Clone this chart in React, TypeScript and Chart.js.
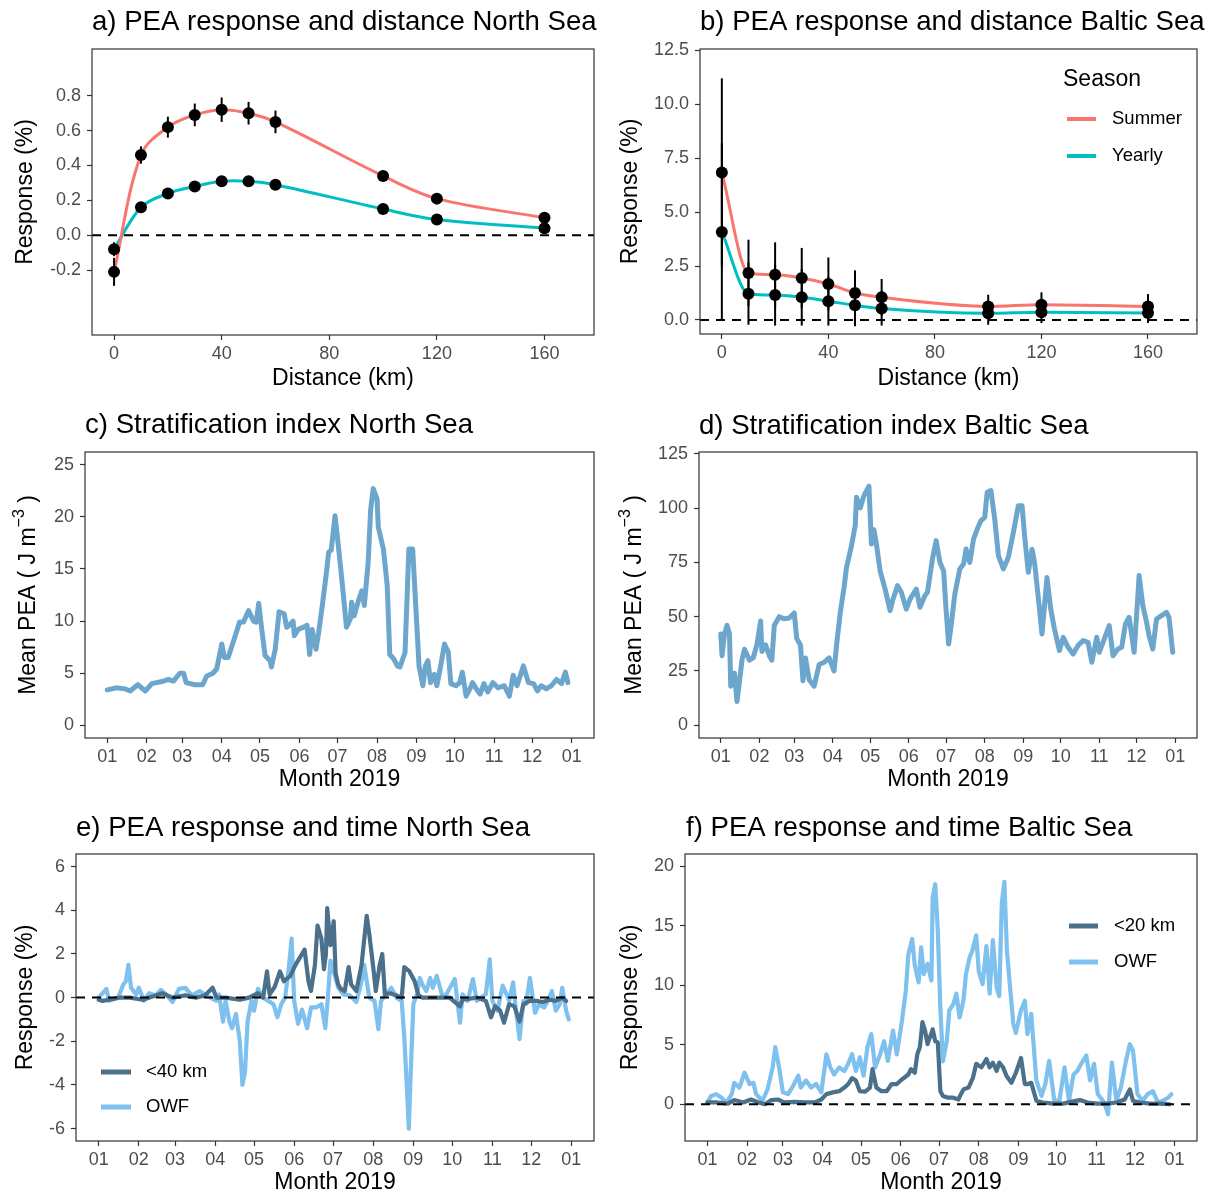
import React, { useEffect, useRef } from "react";
import { Chart, registerables } from "chart.js";

Chart.register(...registerables);

const FONT = "'Liberation Sans', Arial, Helvetica, sans-serif";
const TICK_COLOR = "#4D4D4D";
const FRAME_COLOR = "#333333";
const SUMMER_COLOR = "#F8766D";
const YEARLY_COLOR = "#00BFC4";
const PEA_COLOR = "#6CA6CD";
const NEAR_COLOR = "#4A708B";
const OWF_COLOR = "#7EC0EE";

// ---------------- data: panels a & b (response vs distance) ----------------
const distanceKm = [0, 10, 20, 30, 40, 50, 60, 100, 120, 160];
const distanceTicks = [0, 40, 80, 120, 160];

const northSummer = [-0.21, 0.46, 0.62, 0.69, 0.72, 0.7, 0.65, 0.34, 0.21, 0.1];
const northSummerLo = [-0.29, 0.41, 0.56, 0.625, 0.65, 0.635, 0.585, 0.31, 0.19, 0.085];
const northSummerHi = [-0.13, 0.51, 0.68, 0.755, 0.79, 0.765, 0.715, 0.37, 0.23, 0.115];
const northYearly = [-0.08, 0.16, 0.24, 0.28, 0.31, 0.31, 0.29, 0.15, 0.09, 0.04];
const northYearlyLo = [-0.12, 0.14, 0.21, 0.25, 0.28, 0.28, 0.26, 0.135, 0.08, 0.03];
const northYearlyHi = [-0.04, 0.18, 0.27, 0.31, 0.34, 0.34, 0.32, 0.165, 0.1, 0.05];

const balticSummer = [6.84, 2.18, 2.1, 1.95, 1.67, 1.25, 1.05, 0.63, 0.71, 0.63];
const balticSummerLo = [2.48, 0.64, 0.6, 0.56, 0.44, 0.2, 0.2, 0.09, 0.14, 0.06];
const balticSummerHi = [11.2, 3.72, 3.6, 3.34, 2.9, 2.3, 1.9, 1.17, 1.28, 1.2];
const balticYearly = [4.08, 1.22, 1.16, 1.05, 0.87, 0.68, 0.53, 0.31, 0.36, 0.32];
const balticYearlyLo = [-0.05, -0.22, -0.26, -0.26, -0.26, -0.29, -0.26, -0.22, -0.14, -0.14];
const balticYearlyHi = [8.2, 2.66, 2.58, 2.36, 2.0, 1.65, 1.32, 0.84, 0.86, 0.78];

const northResponseTicks = [-0.2, 0, 0.2, 0.4, 0.6, 0.8];
const balticResponseTicks = [0, 2.5, 5, 7.5, 10, 12.5];

// ---------------- data: time axis ----------------
const monthTickDays = [0, 31, 59, 90, 120, 151, 181, 212, 243, 273, 304, 334, 365];
const monthTickLabels = ["01", "02", "03", "04", "05", "06", "07", "08", "09", "10", "11", "12", "01"];

// panel c: mean PEA North Sea [day of year, J m-3]
const northPEA: [number, number][] = [
  [0, 3.4], [7, 3.6], [14, 3.5], [18, 3.3], [22, 3.7], [24, 3.9], [30, 3.3], [35, 4.0], [43, 4.2], [48, 4.4],
  [52, 4.25], [57, 5.0], [60, 5.0], [62, 4.1], [69, 3.9], [75, 3.9], [78, 4.7], [83, 5.0], [86, 5.4], [90, 7.8],
  [92, 6.5], [95, 6.5], [99, 8.0], [104, 9.9], [107, 9.9], [111, 11.0], [115, 10.0], [117, 9.9], [119, 11.7], [121, 9.6],
  [124, 6.7], [128, 6.2], [129, 5.6], [132, 7.3], [135, 10.9], [139, 10.7], [141, 9.4], [143, 9.6], [146, 10.0], [147, 8.6],
  [150, 9.2], [154, 9.4], [157, 9.6], [159, 6.8], [161, 9.2], [164, 7.3], [166, 8.8], [169, 11.5], [172, 14.4], [174, 16.6],
  [176, 16.8], [179, 20.1], [181, 17.9], [184, 14.4], [188, 9.4], [191, 10.2], [192, 11.8], [194, 10.5], [197, 11.8], [200, 12.9],
  [202, 11.5], [205, 15.6], [207, 20.7], [209, 22.7], [212, 21.7], [213, 19.0], [217, 16.9], [220, 13.4], [222, 6.8], [225, 6.4],
  [228, 5.7], [230, 5.6], [234, 7.0], [237, 16.9], [240, 16.9], [243, 10.2], [245, 5.7], [248, 3.8], [250, 5.7], [252, 6.2],
  [254, 4.1], [257, 4.9], [259, 3.8], [262, 5.7], [265, 7.8], [268, 7.0], [270, 4.0], [274, 3.8], [277, 4.1], [279, 5.1],
  [282, 2.8], [285, 3.5], [287, 4.1], [290, 3.5], [293, 3.0], [296, 4.0], [299, 3.2], [303, 4.1], [307, 3.6], [312, 3.8],
  [316, 2.8], [319, 4.8], [322, 3.8], [327, 5.7], [331, 4.1], [335, 4.0], [338, 3.3], [341, 3.8], [345, 3.5], [349, 3.8],
  [353, 4.4], [357, 4.0], [360, 5.1], [362, 4.1],
];

// panel d: mean PEA Baltic Sea
const balticPEA: [number, number][] = [
  [0, 42], [1, 32], [3, 42], [5, 46], [7, 42], [8, 18], [11, 24], [13, 11], [15, 20], [17, 30],
  [19, 35], [23, 30], [26, 31], [29, 37], [32, 48], [33, 34], [36, 37], [39, 32], [41, 30], [43, 46],
  [47, 50], [51, 49], [55, 49.4], [59, 51.7], [61, 40], [64, 37], [66, 20.5], [68, 31], [71, 21], [75, 18],
  [79, 28], [83, 29], [87, 31], [91, 25], [93, 37], [96, 52], [99, 63.5], [101, 72.7], [105, 82.7], [108, 92],
  [109, 105], [112, 100], [115, 105.7], [119, 110], [121, 83.4], [123, 90], [125, 83.4], [128, 71], [132, 62.7], [136, 52.8],
  [138, 57.4], [142, 64.3], [145, 61.2], [149, 53.5], [152, 58.1], [157, 62.7], [160, 54.3], [164, 59.7], [166, 61.2], [170, 76.5],
  [173, 85], [176, 75], [179, 71], [181, 52.8], [183, 37.4], [185, 45.9], [188, 60.4], [192, 71.9], [195, 74.2], [197, 81.1],
  [200, 75], [203, 85.7], [206, 90.3], [209, 94.2], [212, 95.7], [214, 107.2], [217, 108], [220, 95], [223, 78], [227, 72],
  [231, 77.3], [235, 88.8], [239, 101], [242, 101], [244, 87.3], [247, 70.4], [250, 81], [252, 75], [254, 64.3], [256, 53.5],
  [258, 42], [260, 55], [262, 68], [265, 53.5], [268, 44.3], [272, 34.4], [275, 40.5], [279, 35.9], [283, 32.8], [287, 36.7],
  [291, 39], [295, 38.2], [298, 29], [302, 40.5], [304, 33.6], [308, 39.7], [312, 45.9], [315, 32], [319, 35.1], [322, 35.9],
  [325, 46.6], [328, 49.7], [332, 33.6], [335, 59.7], [336, 68.9], [339, 55], [342, 47.4], [344, 41.3], [347, 35.1], [350, 48.9],
  [354, 50.5], [358, 52], [360, 49.7], [363, 33.6],
];

// panel e: PEA response North Sea (<40 km and OWF)
const northNear: [number, number][] = [
  [0, -0.1], [3, -0.15], [8, -0.1], [16, 0], [24, 0], [34, -0.1], [44, 0.1], [49, 0.2], [57, 0], [67, 0.1],
  [75, 0], [82, 0.1], [88, 0.45], [91, 0], [98, 0], [109, -0.1], [116, 0], [123, 0.2], [127, 0], [130, 1.2],
  [132, 0.15], [136, 0.5], [140, 1.2], [143, 0.75], [148, 1.0], [152, 1.5], [155, 1.8], [157, 2.0], [159, 2.2], [162, 0.75],
  [164, 0.3], [167, 1.5], [169, 3.3], [172, 2.7], [174, 1.3], [175.5, 2.0], [176.5, 4.1], [179, 2.4], [181.5, 3.5], [183, 1.1],
  [185, 0.6], [187, 0.4], [190, 0.3], [193, 1.4], [195, 0.6], [199, 0.3], [203, 1.5], [207, 3.75], [209, 2.9], [212, 1.4],
  [214, 0.3], [217, 1.5], [219, 2.0], [221, 0.15], [225, 0.2], [230, 0.1], [234, 0], [236, 1.4], [240, 1.2], [244, 0.75],
  [247, 0.1], [250, 0], [261, 0], [271, 0], [279, -0.4], [281, -0.1], [292, 0], [299, -0.15], [303, -0.9], [306, -0.4],
  [310, -0.6], [313, -1.15], [317, -0.3], [321, -0.4], [325, -1.1], [328, -0.3], [333, -0.15], [338, -0.15], [343, -0.2], [348, -0.1],
  [353, -0.15], [358, 0], [361, -0.15],
];
const northOWF: [number, number][] = [
  [0, 0], [6, 0.4], [8, -0.15], [15, 0], [19, 0.6], [21, 0.75], [23, 1.5], [25, 0.45], [29, 0.15], [31, 0.45],
  [35, -0.15], [39, 0.2], [44, 0.1], [48, 0.35], [52, 0.15], [57, -0.2], [62, 0.4], [67, 0.45], [72, 0.1], [78, 0.3],
  [83, 0.1], [91, -0.15], [93, 0.15], [96, -1.1], [98, -0.15], [101, -1.1], [103, -1.4], [106, -0.75], [109, -2.0], [111, -4.0],
  [113, -3.4], [115, -1.1], [118, -0.15], [120, -0.6], [123, 0.4], [127, 0], [131, -0.15], [135, -0.3], [138, -0.9], [141, -0.3],
  [144, 0], [147, 1.45], [149, 2.7], [151, -0.15], [154, -1.2], [157, -0.55], [161, -1.4], [164, -0.45], [168, -0.45], [172, -0.3],
  [175, -1.4], [177, 0], [179, 1.7], [182, 1.1], [185, 0.45], [189, 0.15], [194, 0.1], [199, -0.2], [203, 0.75], [205, 1.5],
  [209, 0], [213, -0.15], [216, -1.45], [218, -0.15], [222, 0.15], [226, 0.45], [230, 0], [234, -0.15], [236, -1.8], [238, -4.1],
  [239.5, -6.0], [241, -3.4], [243, -0.3], [246, 0.2], [248, 0.9], [250, 0.6], [253, 0.3], [256, 0.9], [258, 0.45], [261, 1.0],
  [265, 0.15], [268, 0.1], [275, 0.85], [279, -1.15], [281, 0.15], [285, -0.15], [289, 0.85], [292, -0.15], [295, 0], [299, 0.15],
  [302, 1.75], [304, -0.15], [308, -0.6], [312, 0.55], [315, 0.15], [317, -0.15], [320, 0.7], [322, -0.45], [325, -1.9], [328, -0.15],
  [330, -0.3], [333, 0.9], [337, -0.7], [340, -0.3], [344, -0.45], [347, -0.15], [350, 0.3], [353, -0.6], [356, -0.3], [358, 0.45],
  [361, -0.6], [363, -1.0],
];

// panel f: PEA response Baltic Sea (<20 km and OWF)
const balticNear: [number, number][] = [
  [0, 0.15], [8, 0.15], [16, 0.05], [21, 0.35], [28, 0.15], [34, 0.4], [40, 0.15], [45, 0], [50, 0.35], [55, 0.4],
  [60, 0.15], [68, 0.2], [76, 0.15], [84, 0.15], [89, 0.4], [93, 0.85], [98, 1.0], [103, 1.1], [107, 1.4], [110, 1.7],
  [113, 2.2], [116, 2.0], [119, 1.1], [123, 1.05], [127, 1.4], [129, 2.95], [132, 1.4], [136, 1.1], [140, 1.1], [144, 1.7],
  [148, 1.7], [151, 2.0], [154, 2.25], [157, 2.5], [159, 2.95], [162, 2.65], [164, 4.2], [166, 4.8], [168, 6.9], [170, 6.2],
  [172, 5.05], [176, 6.3], [178, 5.3], [180, 5.2], [182, 1.1], [184, 0.7], [188, 0.55], [192, 0.55], [196, 0.4], [200, 1.25],
  [204, 1.4], [207.5, 2.25], [210, 3.4], [214, 3.1], [218, 3.8], [220.5, 3.1], [223, 3.5], [226, 2.8], [228, 3.5], [231, 3.1],
  [233.6, 2.4], [237.5, 1.8], [241, 2.65], [245, 3.9], [248, 1.7], [250.5, 1.7], [253, 1.8], [257, 0.3], [262, 0.15], [270, 0.05],
  [278, 0.05], [284, 0.2], [291, 0.35], [297, 0.15], [304, 0.05], [312, 0.05], [319.5, 0.15], [326, 0.4], [330, 1.25], [332.5, 0.3],
  [338, 0.15], [345.5, 0.05], [353, 0.05], [361, 0],
];
const balticOWF: [number, number][] = [
  [0, 0.15], [3, 0.7], [7, 0.85], [11, 0.55], [15, 0.15], [19, 0.85], [21, 1.8], [25, 1.4], [29, 2.65], [33, 1.7],
  [36, 1.8], [38, 0.85], [43, 0.3], [47, 1.25], [51, 3.1], [53, 4.8], [56, 3.1], [59, 1.0], [63, 0.85], [67, 1.55],
  [71, 2.4], [73, 1.4], [77, 2.0], [81, 1.4], [85, 1.7], [89, 1.0], [93, 4.2], [96, 3.1], [99, 2.5], [103, 3.1],
  [107, 2.8], [110, 3.4], [113, 4.2], [116, 2.8], [119, 3.95], [122, 2.4], [125, 4.8], [128, 5.9], [131, 3.1], [135, 4.2],
  [138, 5.3], [141, 3.65], [145, 6.2], [148, 4.2], [152, 7.0], [155, 9.55], [157, 12.6], [160, 13.9], [162, 11.7], [165, 10.25],
  [167, 13.2], [169, 10.95], [172, 11.8], [175, 10.4], [176, 17.4], [178, 18.5], [180, 14.6], [182, 8.1], [184, 3.6], [187, 5.3],
  [189, 7.9], [192, 8.4], [194.5, 9.3], [197, 7.3], [200, 8.7], [202, 10.95], [205, 12.4], [207, 12.9], [210, 14.2], [212, 11.2],
  [215, 10.1], [218, 13.3], [220.5, 9.3], [223, 13.8], [226, 9.8], [228, 9.1], [230, 16.9], [232, 18.7], [234, 12.9], [236, 10.4],
  [239, 6.75], [241, 6.0], [245, 7.9], [248, 8.7], [250, 5.9], [253, 7.6], [257, 2.0], [261, 0.7], [264, 1.7], [267, 3.65],
  [271, 0.3], [275, 0.3], [279, 3.1], [282.5, 0.3], [286, 2.5], [289, 2.8], [292, 3.4], [296, 4.1], [299, 2.0], [302, 3.4],
  [305, 0.85], [310, 0.15], [313, -0.85], [316, 3.5], [319.5, 0.3], [323, 1.4], [327, 3.65], [330, 5.05], [332.5, 4.5], [336, 0.85],
  [340, 0.3], [344, 0.85], [348, 1.1], [352, 0.15], [356, 0.3], [360, 0.55], [362.5, 0.85],
];

const northPeaTicks = [0, 5, 10, 15, 20, 25];
const balticPeaTicks = [0, 25, 50, 75, 100, 125];
const northTimeTicks = [-6, -4, -2, 0, 2, 4, 6];
const balticTimeTicks = [0, 5, 10, 15, 20];

// ---------------- helpers ----------------
type Area = { l: number; t: number; r: number; b: number };
type TextPart = { text: string; size: number; dy: number };
interface LegendSpec {
  title?: string;
  titleX?: number;
  titleY?: number;
  items: { label: string; color: string; y: number }[];
  keyX0: number;
  keyX1: number;
  keyWidth: number;
  labelX: number;
}
interface ErrorBarSpec { xs: number[]; lo: number[]; hi: number[] }
interface Decor {
  title: string;
  titleX: number;
  titleY: number;
  xTitle: string;
  xTitleY: number;
  yTitleParts: TextPart[];
  yTitleX: number;
  legend?: LegendSpec;
  errorBars?: ErrorBarSpec[];
  errorBarsBeforeIndex?: number;
}

function makeDecorPlugin(d: Decor) {
  return {
    id: "decor",
    beforeDatasetDraw(chart: any, args: any) {
      if (!d.errorBars || args.index !== d.errorBarsBeforeIndex) return;
      const { ctx } = chart;
      const xs = chart.scales.x;
      const ys = chart.scales.y;
      ctx.save();
      ctx.strokeStyle = "#000000";
      ctx.lineWidth = 2;
      ctx.lineCap = "butt";
      for (const eb of d.errorBars) {
        for (let i = 0; i < eb.xs.length; i++) {
          const px = xs.getPixelForValue(eb.xs[i]);
          ctx.beginPath();
          ctx.moveTo(px, ys.getPixelForValue(eb.lo[i]));
          ctx.lineTo(px, ys.getPixelForValue(eb.hi[i]));
          ctx.stroke();
        }
      }
      ctx.restore();
    },
    afterDraw(chart: any) {
      const { ctx, chartArea: a } = chart;
      ctx.save();
      // panel border
      ctx.strokeStyle = FRAME_COLOR;
      ctx.lineWidth = 1.2;
      ctx.strokeRect(a.left, a.top, a.right - a.left, a.bottom - a.top);
      // title
      ctx.fillStyle = "#000000";
      ctx.textBaseline = "middle";
      ctx.textAlign = "left";
      ctx.font = `27.6px ${FONT}`;
      ctx.fillText(d.title, d.titleX, d.titleY);
      // x title
      ctx.textAlign = "center";
      ctx.font = `23px ${FONT}`;
      ctx.fillText(d.xTitle, (a.left + a.right) / 2, d.xTitleY);
      // y title (rotated, may include superscript)
      ctx.save();
      ctx.translate(d.yTitleX, (a.top + a.bottom) / 2);
      ctx.rotate(-Math.PI / 2);
      ctx.textAlign = "left";
      let total = 0;
      const widths = d.yTitleParts.map((p) => {
        ctx.font = `${p.size}px ${FONT}`;
        const w = ctx.measureText(p.text).width;
        total += w;
        return w;
      });
      let cx = -total / 2;
      d.yTitleParts.forEach((p, i) => {
        ctx.font = `${p.size}px ${FONT}`;
        ctx.fillText(p.text, cx, p.dy);
        cx += widths[i];
      });
      ctx.restore();
      // legend
      if (d.legend) {
        const L = d.legend;
        if (L.title) {
          ctx.textAlign = "left";
          ctx.font = `23px ${FONT}`;
          ctx.fillStyle = "#000000";
          ctx.fillText(L.title, L.titleX, L.titleY);
        }
        for (const it of L.items) {
          ctx.strokeStyle = it.color;
          ctx.lineWidth = L.keyWidth;
          ctx.lineCap = "butt";
          ctx.beginPath();
          ctx.moveTo(L.keyX0, it.y);
          ctx.lineTo(L.keyX1, it.y);
          ctx.stroke();
          ctx.fillStyle = "#000000";
          ctx.textAlign = "left";
          ctx.font = `18.5px ${FONT}`;
          ctx.fillText(it.label, L.labelX, it.y);
        }
      }
      ctx.restore();
    },
  };
}

interface PanelSpec {
  w: number;
  h: number;
  area: Area;
  xMin: number;
  xMax: number;
  xTicks: number[];
  xFmt: (v: number, i: number) => string;
  yMin: number;
  yMax: number;
  yTicks: number[];
  yFmt: (v: number) => string;
  datasets: any[];
  decor: Decor;
}

function buildConfig(p: PanelSpec): any {
  const gridOpts = {
    display: true,
    drawOnChartArea: false,
    drawTicks: true,
    tickLength: 5,
    tickColor: FRAME_COLOR,
    tickWidth: 1.2,
    color: FRAME_COLOR,
  };
  return {
    type: "line",
    data: { datasets: p.datasets },
    options: {
      responsive: false,
      maintainAspectRatio: false,
      animation: false,
      events: [],
      layout: { padding: { top: p.area.t, right: p.w - p.area.r, bottom: 0, left: 0 } },
      plugins: { legend: { display: false }, tooltip: { enabled: false }, title: { display: false } },
      scales: {
        x: {
          type: "linear",
          min: p.xMin,
          max: p.xMax,
          afterBuildTicks: (s: any) => {
            s.ticks = p.xTicks.map((v) => ({ value: v }));
          },
          afterFit: (s: any) => {
            s.height = p.h - p.area.b;
          },
          ticks: {
            callback: (v: number, i: number) => p.xFmt(v, i),
            font: { family: FONT, size: 18 },
            color: TICK_COLOR,
            padding: 3,
            maxRotation: 0,
            autoSkip: false,
          },
          grid: gridOpts,
          border: { display: false },
        },
        y: {
          type: "linear",
          min: p.yMin,
          max: p.yMax,
          afterBuildTicks: (s: any) => {
            s.ticks = p.yTicks.map((v) => ({ value: v }));
          },
          afterFit: (s: any) => {
            s.width = p.area.l;
          },
          ticks: {
            callback: (v: number) => p.yFmt(v),
            font: { family: FONT, size: 18 },
            color: TICK_COLOR,
            padding: 6,
            autoSkip: false,
          },
          grid: gridOpts,
          border: { display: false },
        },
      },
    },
    plugins: [makeDecorPlugin(p.decor)],
  };
}

const toXY = (pairs: [number, number][]) => pairs.map(([x, y]) => ({ x, y }));
const zip = (xs: number[], ys: number[]) => xs.map((x, i) => ({ x, y: ys[i] }));

function zeroLine(xMin: number, xMax: number) {
  return {
    data: [
      { x: xMin, y: 0 },
      { x: xMax, y: 0 },
    ],
    borderColor: "#000000",
    borderWidth: 2,
    borderDash: [9, 7],
    pointRadius: 0,
    tension: 0,
  };
}

function smoothLine(ys: number[], color: string, monotone: boolean) {
  return {
    data: zip(distanceKm, ys),
    borderColor: color,
    borderWidth: 3,
    pointRadius: 0,
    cubicInterpolationMode: monotone ? "monotone" : "default",
    tension: monotone ? 0.4 : 0.35,
  };
}

function dots(ys: number[]) {
  return {
    data: zip(distanceKm, ys),
    showLine: false,
    pointRadius: 6,
    pointBackgroundColor: "#000000",
    pointBorderWidth: 0,
    borderColor: "#000000",
  };
}

function timeLine(pairs: [number, number][], color: string, width: number) {
  return {
    data: toXY(pairs),
    borderColor: color,
    borderWidth: width,
    pointRadius: 0,
    tension: 0,
    borderJoinStyle: "round",
    borderCapStyle: "round",
  };
}

const fmt1 = (v: number) => v.toFixed(1);
const fmt0 = (v: number) => String(Math.round(v));
const distFmt = (v: number) => String(v);
const monthFmt = (_v: number, i: number) => monthTickLabels[i];
const T_MIN = -17.5;
const T_MAX = 382.5;
const D_MIN = -8.2;
const D_MAX = 178.4;

const responseTitle: TextPart[] = [{ text: "Response (%)", size: 23, dy: 0 }];
const peaTitle: TextPart[] = [
  { text: "Mean PEA ( J m", size: 23, dy: 0 },
  { text: "\u22123", size: 16, dy: -9 },
  { text: " )", size: 23, dy: 0 },
];

const panelA: PanelSpec = {
  w: 606, h: 400, area: { l: 92, t: 49, r: 594, b: 335 },
  xMin: D_MIN, xMax: D_MAX, xTicks: distanceTicks, xFmt: distFmt,
  yMin: -0.572, yMax: 1.068, yTicks: northResponseTicks, yFmt: fmt1,
  datasets: [
    dots(northSummer),
    dots(northYearly),
    smoothLine(northSummer, SUMMER_COLOR, false),
    smoothLine(northYearly, YEARLY_COLOR, false),
    zeroLine(D_MIN, D_MAX),
  ],
  decor: {
    title: "a) PEA response and distance North Sea", titleX: 92, titleY: 22,
    xTitle: "Distance (km)", xTitleY: 379,
    yTitleParts: responseTitle, yTitleX: 26,
    errorBars: [
      { xs: distanceKm, lo: northSummerLo, hi: northSummerHi },
      { xs: distanceKm, lo: northYearlyLo, hi: northYearlyHi },
    ],
    errorBarsBeforeIndex: 1,
  },
};

const panelB: PanelSpec = {
  w: 606, h: 400, area: { l: 94, t: 49, r: 591, b: 334 },
  xMin: D_MIN, xMax: D_MAX, xTicks: distanceTicks, xFmt: distFmt,
  yMin: -0.65, yMax: 12.56, yTicks: balticResponseTicks, yFmt: fmt1,
  datasets: [
    dots(balticSummer),
    dots(balticYearly),
    smoothLine(balticSummer, SUMMER_COLOR, true),
    smoothLine(balticYearly, YEARLY_COLOR, true),
    zeroLine(D_MIN, D_MAX),
  ],
  decor: {
    title: "b) PEA response and distance Baltic Sea", titleX: 94, titleY: 22,
    xTitle: "Distance (km)", xTitleY: 379,
    yTitleParts: responseTitle, yTitleX: 25,
    legend: {
      title: "Season", titleX: 457, titleY: 80,
      items: [
        { label: "Summer", color: SUMMER_COLOR, y: 119 },
        { label: "Yearly", color: YEARLY_COLOR, y: 156 },
      ],
      keyX0: 461, keyX1: 490, keyWidth: 4, labelX: 506,
    },
    errorBars: [
      { xs: distanceKm, lo: balticSummerLo, hi: balticSummerHi },
      { xs: distanceKm, lo: balticYearlyLo, hi: balticYearlyHi },
    ],
    errorBarsBeforeIndex: 1,
  },
};

const panelC: PanelSpec = {
  w: 606, h: 400, area: { l: 85, t: 52, r: 594, b: 338 },
  xMin: T_MIN, xMax: T_MAX, xTicks: monthTickDays, xFmt: monthFmt,
  yMin: -1.21, yMax: 26.21, yTicks: northPeaTicks, yFmt: fmt0,
  datasets: [timeLine(northPEA, PEA_COLOR, 5)],
  decor: {
    title: "c) Stratification index North Sea", titleX: 85, titleY: 25,
    xTitle: "Month 2019", xTitleY: 380,
    yTitleParts: peaTitle, yTitleX: 29,
  },
};

const panelD: PanelSpec = {
  w: 606, h: 400, area: { l: 93, t: 52, r: 591, b: 338 },
  xMin: T_MIN, xMax: T_MAX, xTicks: monthTickDays, xFmt: monthFmt,
  yMin: -5.83, yMax: 125.77, yTicks: balticPeaTicks, yFmt: fmt0,
  datasets: [timeLine(balticPEA, PEA_COLOR, 5)],
  decor: {
    title: "d) Stratification index Baltic Sea", titleX: 93, titleY: 26,
    xTitle: "Month 2019", xTitleY: 380,
    yTitleParts: peaTitle, yTitleX: 29,
  },
};

const panelE: PanelSpec = {
  w: 606, h: 395, area: { l: 76, t: 54, r: 594, b: 341 },
  xMin: T_MIN, xMax: T_MAX, xTicks: monthTickDays, xFmt: monthFmt,
  yMin: -6.57, yMax: 6.58, yTicks: northTimeTicks, yFmt: fmt0,
  datasets: [
    zeroLine(T_MIN, T_MAX),
    timeLine(northNear, NEAR_COLOR, 4.2),
    timeLine(northOWF, OWF_COLOR, 4.2),
  ],
  decor: {
    title: "e) PEA response and time North Sea", titleX: 76, titleY: 28,
    xTitle: "Month 2019", xTitleY: 383,
    yTitleParts: responseTitle, yTitleX: 26,
    legend: {
      items: [
        { label: "<40 km", color: NEAR_COLOR, y: 272 },
        { label: "OWF", color: OWF_COLOR, y: 307 },
      ],
      keyX0: 101, keyX1: 131, keyWidth: 5, labelX: 146,
    },
  },
};

const panelF: PanelSpec = {
  w: 606, h: 395, area: { l: 79, t: 54, r: 591, b: 341 },
  xMin: T_MIN, xMax: T_MAX, xTicks: monthTickDays, xFmt: monthFmt,
  yMin: -3.09, yMax: 21.04, yTicks: balticTimeTicks, yFmt: fmt0,
  datasets: [
    zeroLine(T_MIN, T_MAX),
    timeLine(balticNear, NEAR_COLOR, 4.2),
    timeLine(balticOWF, OWF_COLOR, 4.2),
  ],
  decor: {
    title: "f) PEA response and time Baltic Sea", titleX: 80, titleY: 28,
    xTitle: "Month 2019", xTitleY: 383,
    yTitleParts: responseTitle, yTitleX: 25,
    legend: {
      items: [
        { label: "<20 km", color: NEAR_COLOR, y: 126 },
        { label: "OWF", color: OWF_COLOR, y: 162 },
      ],
      keyX0: 463, keyX1: 492, keyWidth: 5, labelX: 508,
    },
  },
};

function Panel({ spec, left, top }: { spec: PanelSpec; left: number; top: number }) {
  const ref = useRef<HTMLCanvasElement | null>(null);
  useEffect(() => {
    if (!ref.current) return;
    const chart = new Chart(ref.current, buildConfig(spec));
    return () => chart.destroy();
  }, [spec]);
  return (
    <canvas
      ref={ref}
      width={spec.w}
      height={spec.h}
      style={{ position: "absolute", left, top, width: spec.w, height: spec.h }}
    />
  );
}

export default function App() {
  return (
    <div
      style={{
        position: "absolute",
        left: 0,
        top: 0,
        width: 1212,
        height: 1195,
        background: "#ffffff",
        overflow: "hidden",
      }}
    >
      <Panel spec={panelA} left={0} top={0} />
      <Panel spec={panelB} left={606} top={0} />
      <Panel spec={panelC} left={0} top={400} />
      <Panel spec={panelD} left={606} top={400} />
      <Panel spec={panelE} left={0} top={800} />
      <Panel spec={panelF} left={606} top={800} />
    </div>
  );
}
